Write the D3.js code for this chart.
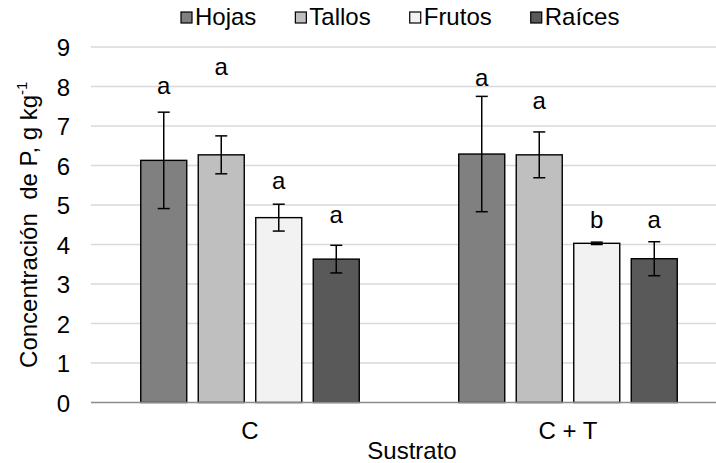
<!DOCTYPE html>
<html>
<head>
<meta charset="utf-8">
<script src="https://cdn.jsdelivr.net/npm/d3@7"></script>
<style>
  html, body { margin: 0; padding: 0; background: #fff; }
  svg { display: block; }
  text { font-family: "Liberation Sans", Arial, sans-serif; fill: #000; }
</style>
</head>
<body>
<svg id="chart" width="716" height="463"></svg>
<script>
// Phosphorus concentration by plant organ and substrate
const substrates = ["C", "C + T"];
const organs = ["Hojas", "Tallos", "Frutos", "Raíces"];
const organColors = ["#808080", "#bfbfbf", "#f2f2f2", "#595959"];
const meanC  = [6.13, 6.27, 4.68, 3.63];
const meanCT = [6.29, 6.27, 4.03, 3.64];
const errC   = [1.22, 0.48, 0.34, 0.35];
const errCT  = [1.46, 0.58, 0.03, 0.43];
const letterC  = ["a", "a", "a", "a"];
const letterCT = ["a", "a", "b", "a"];
// height (in axis units) at which each significance letter is centred
const letterPosC  = [7.96, 8.44, 5.56, 4.70];
const letterPosCT = [8.18, 7.59, 4.64, 4.58];
const yTicks = [0, 1, 2, 3, 4, 5, 6, 7, 8, 9];

const means = [meanC, meanCT];
const errs = [errC, errCT];
const letters = [letterC, letterCT];
const letterPos = [letterPosC, letterPosCT];

const rows = [];
substrates.forEach((s, i) => {
  organs.forEach((o, j) => {
    rows.push({ sub: s, organ: o, value: means[i][j], err: errs[i][j],
                letter: letters[i][j], lpos: letterPos[i][j], color: organColors[j] });
  });
});

const FS = 24;
const svg = d3.select("#chart");
const plotLeft = 91, plotRight = 727, plotTop = 47, plotBottom = 402.5;

const x0 = d3.scaleBand().domain(substrates).range([plotLeft, plotRight]).padding(0);
const x1 = d3.scaleBand().domain(organs).range([0, x0.bandwidth()])
  .paddingInner(0.2).paddingOuter(0.865);
const y = d3.scaleLinear().domain([0, 9]).range([plotBottom, plotTop]);

// horizontal gridlines
svg.append("g")
  .selectAll("line")
  .data(yTicks.filter(d => d > 0))
  .join("line")
  .attr("x1", plotLeft).attr("x2", plotRight)
  .attr("y1", d => y(d)).attr("y2", d => y(d))
  .attr("stroke", "#d9d9d9").attr("stroke-width", 1.5);

// y axis tick labels
const yAxis = d3.axisLeft(y).tickValues(yTicks).tickSize(0).tickPadding(0);
const yg = svg.append("g").attr("transform", `translate(${plotLeft - 21},0)`).call(yAxis);
yg.select(".domain").remove();
yg.selectAll("text").attr("font-size", FS).attr("font-family", "Liberation Sans, Arial, sans-serif")
  .attr("fill", "#000").attr("dy", "0.36em");

// bars
svg.append("g")
  .selectAll("rect")
  .data(rows)
  .join("rect")
  .attr("x", d => x0(d.sub) + x1(d.organ))
  .attr("y", d => y(d.value))
  .attr("width", x1.bandwidth())
  .attr("height", d => y(0) - y(d.value))
  .attr("fill", d => d.color)
  .attr("stroke", "#000").attr("stroke-width", 1.4);

// baseline
svg.append("line")
  .attr("x1", plotLeft).attr("x2", plotRight)
  .attr("y1", y(0)).attr("y2", y(0))
  .attr("stroke", "#8c8c8c").attr("stroke-width", 1.5);

// error bars
const eb = svg.append("g").attr("stroke", "#000").attr("stroke-width", 1.5);
rows.forEach(d => {
  const cx = x0(d.sub) + x1(d.organ) + x1.bandwidth() / 2;
  const y1 = y(d.value + d.err), y2 = y(d.value - d.err);
  eb.append("line").attr("x1", cx).attr("x2", cx).attr("y1", y1).attr("y2", y2);
  eb.append("line").attr("x1", cx - 6).attr("x2", cx + 6).attr("y1", y1).attr("y2", y1);
  eb.append("line").attr("x1", cx - 6).attr("x2", cx + 6).attr("y1", y2).attr("y2", y2);
});

// significance letters (glyph centred on its position)
svg.append("g")
  .selectAll("text")
  .data(rows)
  .join("text")
  .attr("x", d => x0(d.sub) + x1(d.organ) + x1.bandwidth() / 2)
  .attr("y", d => y(d.lpos))
  .attr("dy", d => d.letter === "b" ? "0.36em" : "0.26em")
  .attr("text-anchor", "middle")
  .attr("font-size", FS)
  .text(d => d.letter);

// x axis category labels
const xAxis = d3.axisBottom(x0).tickSize(0).tickPadding(0);
const xg = svg.append("g").attr("transform", `translate(0,${plotBottom})`).call(xAxis);
xg.select(".domain").remove();
xg.selectAll("text").attr("font-size", FS).attr("font-family", "Liberation Sans, Arial, sans-serif")
  .attr("fill", "#000").attr("dy", null).attr("y", 36);

// axis titles
svg.append("text")
  .attr("x", (plotLeft + plotRight) / 2 + 3).attr("y", 459)
  .attr("text-anchor", "middle").attr("font-size", FS)
  .text("Sustrato");

const yt = svg.append("text")
  .attr("transform", `translate(37,${(plotTop + plotBottom) / 2}) rotate(-90)`)
  .attr("text-anchor", "middle").attr("font-size", FS);
yt.append("tspan").text("Concentración\u00a0 de P, g kg");
yt.append("tspan").attr("font-size", 15).attr("dy", -10).text("-1");

// legend
const legend = svg.append("g");
let lx = 181;
organs.forEach((o, j) => {
  legend.append("rect")
    .attr("x", lx).attr("y", 12).attr("width", 11).attr("height", 11)
    .attr("fill", organColors[j]).attr("stroke", "#000").attr("stroke-width", 1.2);
  const t = legend.append("text")
    .attr("x", lx + 14).attr("y", 25)
    .attr("font-size", FS).text(o);
  lx += 14 + t.node().getComputedTextLength() + 39;
});
</script>
</body>
</html>
